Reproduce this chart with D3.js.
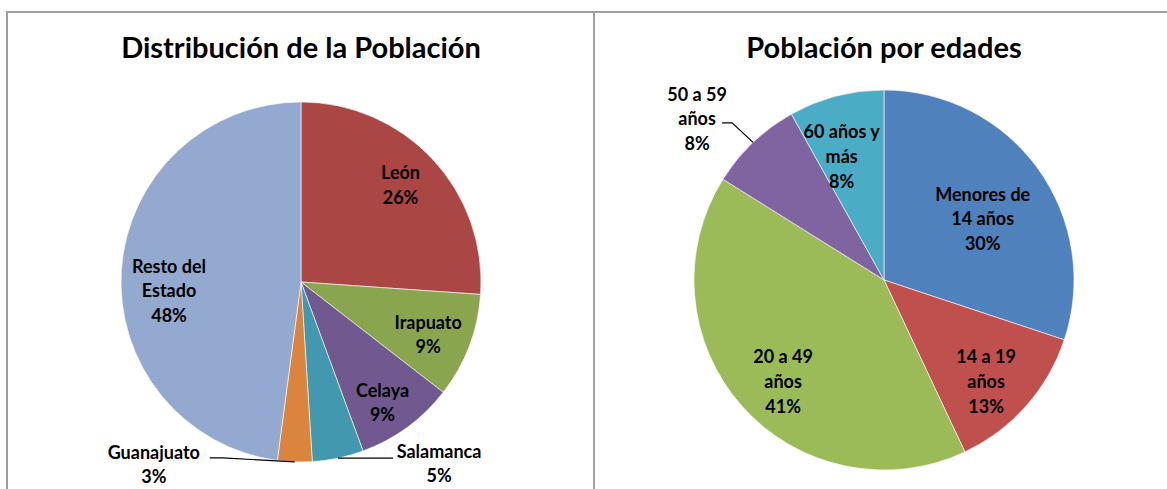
<!DOCTYPE html>
<html>
<head>
<meta charset="utf-8">
<script src="https://cdn.jsdelivr.net/npm/d3@7"></script>
<style>
  body { margin: 0; background: #fff; }
  text { font-family: Lato, "Open Sans", sans-serif; font-weight: bold; fill: #000; }
</style>
</head>
<body>
<svg id="chart" width="1167" height="489"></svg>
<script>
// Distribución de la Población (share of state population, %)
var cities = ["León", "Irapuato", "Celaya", "Salamanca", "Guanajuato", "Resto del\nEstado"];
var cityShare = [26.1, 9.4, 8.9, 4.6, 3.1, 47.9];
var cityColors = ["#AA4643", "#89A54E", "#71588F", "#4198AF", "#DB843D", "#93A9CF"];

// Población por edades (%)
var ages = ["Menores de\n14 años", "14 a 19\naños", "20 a 49\naños", "50 a 59\naños", "60 años y\nmás"];
var ageShare = [30.1, 12.9, 40.9, 8.0, 8.1];
var ageColors = ["#4F81BD", "#C0504D", "#9BBB59", "#8064A2", "#4BACC6"];

var svg = d3.select("#chart");
var pct = d3.format(".0%");
var lineH = 24.7;

// panel frame
var frame = svg.append("g")
    .attr("fill", "none")
    .attr("stroke", "#a0a0a0")
    .attr("stroke-width", 2);
frame.append("path").attr("d", "M7,489V12H1167");
frame.append("path").attr("d", "M594,12V489");

// label placement: [angle in degrees from 12 o'clock, radius fraction] for the block centre
// outside labels get a leader: elbow/end/text offsets from the point on the rim
var labelLayout = {
  "León": {polar: [45.9, 0.77]},
  "Irapuato": {polar: [112.6, 0.765]},
  "Celaya": {polar: [146, 0.81]},
  "Salamanca": {rim: true, elbow: [8, 0], end: [55, 0], text: [101, 6]},
  "Guanajuato": {rim: true, elbow: [-72, -4], end: [-85, -4], text: [-141, 3]},
  "Resto del\nEstado": {polar: [266, 0.735]},
  "Menores de\n14 años": {polar: [58.4, 0.61]},
  "14 a 19\naños": {polar: [135, 0.76]},
  "20 a 49\naños": {polar: [224.7, 0.755]},
  "50 a 59\naños": {rim: true, elbow: [-21, -19.5], end: [-31, -19.5], text: [-56, -23]},
  "60 años y\nmás": {polar: [341, 0.685]}
};

function drawPie(opts) {
  var g = svg.append("g").attr("transform", "translate(" + opts.cx + "," + opts.cy + ")");

  svg.append("text")
    .attr("x", opts.cx)
    .attr("y", 58)
    .attr("text-anchor", "middle")
    .style("font-size", "29px")
    .text(opts.title);

  var total = d3.sum(opts.values);
  var rows = opts.names.map(function(n, i) {
    return {name: n, value: opts.values[i], color: opts.colors[i]};
  });

  var arcs = d3.pie().sort(null).value(function(d) { return d.value; })(rows);
  var arc = d3.arc().innerRadius(0).outerRadius(opts.r);

  g.selectAll("path.slice")
    .data(arcs)
    .enter().append("path")
    .attr("class", "slice")
    .attr("d", arc)
    .attr("fill", function(d) { return d.data.color; })
    .attr("stroke", "#fff")
    .attr("stroke-width", 0.6);

  arcs.forEach(function(d) {
    var lay = labelLayout[d.data.name];
    var lines = d.data.name.split("\n").concat([pct(d.data.value / total)]);
    var cx, cy;
    if (lay.rim) {
      var mid = (d.startAngle + d.endAngle) / 2;
      var px = Math.sin(mid) * opts.r, py = -Math.cos(mid) * opts.r;
      g.append("polyline")
        .attr("points", [[px, py], [px + lay.elbow[0], py + lay.elbow[1]], [px + lay.end[0], py + lay.end[1]]].join(" "))
        .attr("fill", "none")
        .attr("stroke", "#000")
        .attr("stroke-width", 1.2);
      cx = px + lay.text[0];
      cy = py + lay.text[1];
    } else {
      var a = lay.polar[0] * Math.PI / 180;
      cx = Math.sin(a) * opts.r * lay.polar[1];
      cy = -Math.cos(a) * opts.r * lay.polar[1];
    }
    var t = g.append("text")
      .attr("text-anchor", "middle")
      .style("font-size", "18px");
    var y0 = cy - (lines.length - 1) * lineH / 2 + 6;
    lines.forEach(function(s, k) {
      t.append("tspan").attr("x", cx).attr("y", y0 + k * lineH).text(s);
    });
  });
}

drawPie({title: "Distribución de la Población", cx: 301, cy: 282, r: 180,
  names: cities, values: cityShare, colors: cityColors});
drawPie({title: "Población por edades", cx: 884, cy: 280, r: 190,
  names: ages, values: ageShare, colors: ageColors});
</script>
</body>
</html>
